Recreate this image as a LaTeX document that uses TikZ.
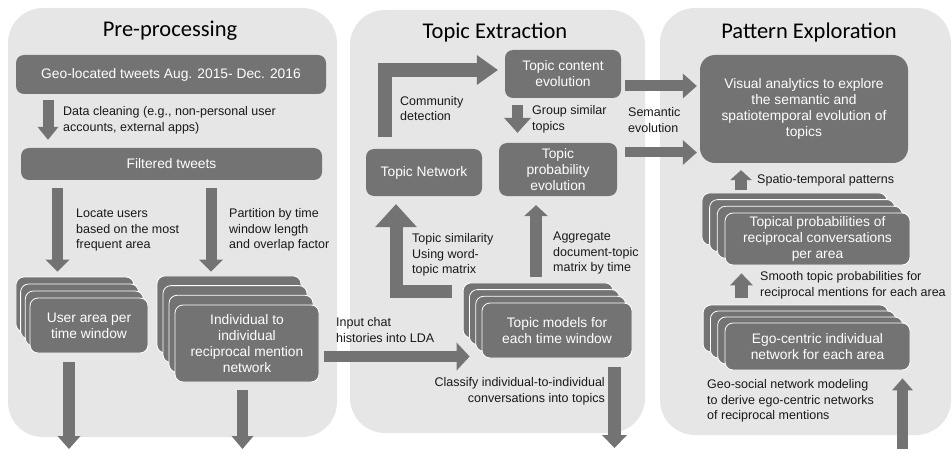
\documentclass[tikz,border=0pt]{standalone}
\usepackage{fontspec}
\setmainfont{Liberation Sans}
\newfontfamily\titlefont{Carlito}
\usetikzlibrary{arrows.meta}
\definecolor{boxgray}{HTML}{737373}
\definecolor{panelgray}{HTML}{E6E6E6}
\tikzset{
  panel/.style={fill=panelgray, rounded corners=35pt},
  paneltitle/.style={font=\titlefont\fontsize{22.5}{27}\selectfont, anchor=base},
  darkbox/.style={fill=boxgray, rounded corners=8pt, text=white, align=center,
    font=\fontsize{13.8}{16}\selectfont, inner sep=2pt},
  stacklayer/.style={darkbox, draw=white, line width=0.8pt},
  remark/.style={font=\fontsize{12.5}{15.5}\selectfont, align=left, anchor=west,
    inner sep=0pt, text=black!90},
  flow/.style n args={3}{draw=boxgray, line width=#1, line join=miter,
    -{Triangle[width=#2, length=#3, line width=0pt]}}
}
\begin{document}
\begin{tikzpicture}[x=1pt, y=-1pt]
  \useasboundingbox (0,0) rectangle (952,449);
  % panels
  \fill[panel] (8,8) rectangle (337,437);
  \fill[panel] (350,10) rectangle (645,433);
  \fill[panel] (660,8) rectangle (951,435);
  \node[paneltitle] at (170,37) {Pre-processing};
  \node[paneltitle] at (495,39) {Topic Extraction};
  \node[paneltitle] at (809,39) {Pattern Exploration};

  % pre-processing
  \node[darkbox, minimum width=310pt, minimum height=39pt] (geo) at (171,74.5)
    {Geo-located tweets Aug. 2015- Dec. 2016};
  \node[darkbox, minimum width=301pt, minimum height=32pt] (filtered) at (171.5,164)
    {Filtered tweets};
  \foreach \k in {3,2,1}
    \node[stacklayer, minimum width=118pt, minimum height=55pt] at (89-4.7*\k, 325.5-7*\k) {};
  \node[stacklayer, minimum width=118pt, minimum height=55pt] (userarea) at (89,325.5)
    {User area per\\time window};
  \foreach \k in {3,2,1}
    \node[stacklayer, minimum width=144pt, minimum height=77pt] at (247-6*\k, 343.5-9.7*\k) {};
  \node[stacklayer, minimum width=144pt, minimum height=77pt] (indiv) at (247,343.5)
    {Individual to\\individual\\reciprocal mention\\network};

  % topic extraction
  \node[darkbox, minimum width=116pt, minimum height=47pt] (topicnet) at (424,172.5)
    {Topic Network};
  \node[darkbox, minimum width=116pt, minimum height=48pt] (topiccontent) at (563,74)
    {Topic content\\evolution};
  \node[darkbox, minimum width=118pt, minimum height=53pt] (topicprob) at (558,169.5)
    {Topic\\probability\\evolution};
  \foreach \k in {3,2,1}
    \node[stacklayer, minimum width=150pt, minimum height=55pt] at (557-6.3*\k, 330.5-6.7*\k) {};
  \node[stacklayer, minimum width=150pt, minimum height=55pt] (topicmodels) at (557,330.5)
    {Topic models for\\each time window};

  % pattern exploration
  \node[darkbox, rounded corners=15pt, minimum width=208pt, minimum height=108pt] (visual) at (804,109)
    {Visual analytics to explore\\the semantic and\\spatiotemporal evolution of\\topics};
  \foreach \k in {3,2,1}
    \node[stacklayer, minimum width=185pt, minimum height=52pt] at (817.5-7.7*\k, 239-6.7*\k) {};
  \node[stacklayer, minimum width=185pt, minimum height=52pt] (topical) at (817.5,239)
    {Topical probabilities of\\reciprocal conversations\\per area};
  \foreach \k in {3,2,1}
    \node[stacklayer, minimum width=185pt, minimum height=47pt] at (817.5-7.3*\k, 346.5-6*\k) {};
  \node[stacklayer, minimum width=185pt, minimum height=47pt] (ego) at (817.5,346.5)
    {Ego-centric individual\\network for each area};

  % free ends
  \coordinate (outA) at (69,449);
  \coordinate (outB) at (242.5,449);
  \coordinate (outC) at (614.5,448);
  \coordinate (inD) at (902.5,449);

  % arrows
  \draw[flow={11pt}{21pt}{13pt}] ([xshift=-123pt,yshift=-6pt]geo.south) -- ([xshift=-123.5pt,yshift=8pt]filtered.north);
  \draw[flow={11pt}{24pt}{12pt}] ([xshift=-114pt,yshift=-8pt]filtered.south) -- ([xshift=-31.5pt,yshift=26pt]userarea.north);
  \draw[flow={11pt}{24pt}{12pt}] ([xshift=39.5pt,yshift=-8pt]filtered.south) -- ([xshift=-36pt,yshift=33pt]indiv.north);
  \draw[flow={12pt}{23pt}{13pt}] ([xshift=-20pt,yshift=-9pt]userarea.south) -- (outA);
  \draw[flow={11pt}{22pt}{13pt}] ([xshift=-4.5pt,yshift=-8pt]indiv.south) -- (outB);
  \draw[flow={11pt}{28pt}{13pt}] ([xshift=5pt,yshift=-13pt]indiv.east) -- ([xshift=-12pt,yshift=-26pt]topicmodels.west);
  \draw[flow={13pt}{25pt}{13pt}] ([xshift=57.5pt,yshift=-9pt]topicmodels.south) -- (outC);
  \draw[flow={13pt}{42pt}{23pt}] ([xshift=-30pt,yshift=39pt]topicmodels.west) -| ([xshift=-28pt,yshift=-8pt]topicnet.south);
  \draw[flow={12pt}{24pt}{11pt}] ([xshift=-21pt,yshift=26pt]topicmodels.north) -- ([xshift=-22pt,yshift=-9pt]topicprob.south);
  \draw[flow={14pt}{30pt}{21pt}] ([xshift=-39pt,yshift=12pt]topicnet.north) |- ([xshift=-7pt,yshift=4pt]topiccontent.west);
  \draw[flow={11pt}{27pt}{15pt}] ([xshift=-45.5pt,yshift=-7pt]topiccontent.south) -- ([xshift=-40.5pt,yshift=10pt]topicprob.north);
  \draw[flow={11pt}{25pt}{14pt}] ([xshift=4pt,yshift=-12pt]topiccontent.east) -- ([xshift=-3pt,yshift=23pt]visual.west);
  \draw[flow={10pt}{25pt}{14pt}] ([xshift=8pt,yshift=17pt]topicprob.east) -- ([xshift=-3pt,yshift=-43.5pt]visual.west);
  \draw[flow={12pt}{22pt}{10pt}] ([xshift=-76.5pt,yshift=23pt]topical.north) -- ([xshift=-63pt,yshift=-7pt]visual.south);
  \draw[flow={13pt}{23pt}{12pt}] ([xshift=-76pt,yshift=25pt]ego.north) -- ([xshift=-76pt,yshift=-8pt]topical.south);
  \draw[flow={11pt}{21pt}{12pt}] (inD) -- ([xshift=85pt,yshift=-8pt]ego.south);

  % notes
  \node[remark] at (63,120.5) {Data cleaning (e.g., non-personal user\\accounts, external apps)};
  \node[remark] at (76,230) {Locate users\\based on the most\\frequent area};
  \node[remark] at (229,230) {Partition by time\\window length\\and overlap factor};
  \node[remark] at (336,330) {Input chat\\histories into LDA};
  \node[remark, anchor=east, align=right] at (605,391.5) {Classify individual-to-individual\\conversations into topics};
  \node[remark] at (412,255) {Topic similarity\\Using word-\\topic matrix};
  \node[remark] at (553,253) {Aggregate\\document-topic\\matrix by time};
  \node[remark] at (400,108.5) {Community\\detection};
  \node[remark] at (532,119.5) {Group similar\\topics};
  \node[remark] at (628,120) {Semantic\\evolution};
  \node[remark] at (757,180) {Spatio-temporal patterns};
  \node[remark] at (760,285.5) {Smooth topic probabilities for\\reciprocal mentions for each area};
  \node[remark] at (707,401) {Geo-social network modeling\\to derive ego-centric networks\\of reciprocal mentions};
\end{tikzpicture}
\end{document}
